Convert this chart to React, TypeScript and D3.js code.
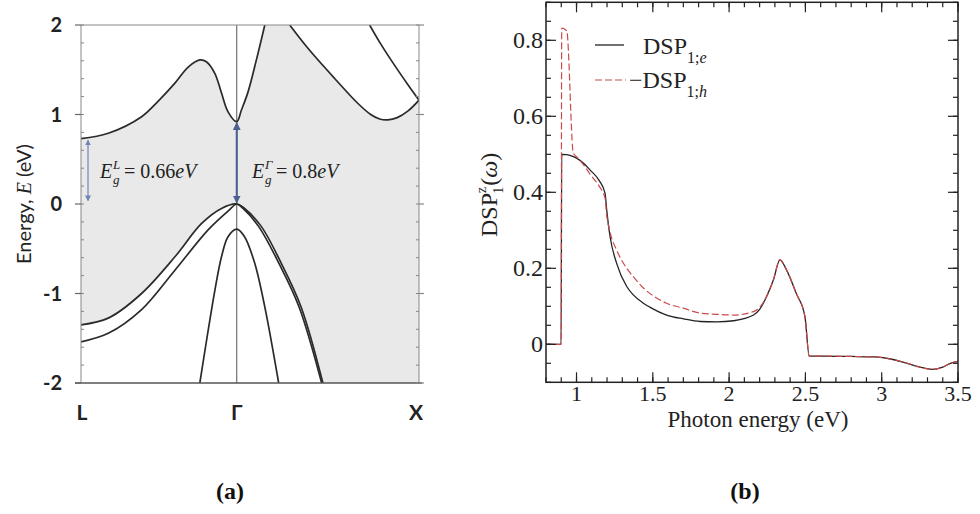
import React from 'react';
import * as d3 from 'd3';

// ---- (a) band structure: k along L -> Gamma -> X, energies in eV ----
const kPoints = [0, 1, 2.17];
const kLabels = ['L', 'Γ', 'X'];
const energyTicks = [-2, -1, 0, 1, 2];

// lowest conduction band, L -> Gamma -> up the steep branch
const cbLow: [number, number][] = [
  [0, 0.73], [0.175, 0.79], [0.389, 0.975], [0.496, 1.15], [0.603, 1.35], [0.688, 1.53],
  [0.763, 1.61], [0.805, 1.59], [0.859, 1.46], [0.902, 1.24], [0.944, 1.03], [1, 0.92],
  [1.03, 1.05], [1.072, 1.25], [1.126, 1.61], [1.18, 2.0]
];
// conduction band dipping towards X
const cbX: [number, number][] = [
  [1.34, 2.0], [1.457, 1.74], [1.63, 1.4], [1.78, 1.12], [1.86, 1.0], [1.917, 0.95],
  [1.97, 0.94], [2.03, 0.965], [2.1, 1.04], [2.17, 1.16]
];
const cbXUpper: [number, number][] = [
  [1.853, 2.0], [1.92, 1.8], [1.99, 1.61], [2.1, 1.33], [2.17, 1.16]
];
// valence bands
const vbHeavy: [number, number][] = [
  [0, -1.35], [0.175, -1.275], [0.389, -1.0], [0.603, -0.59], [0.773, -0.22], [0.902, -0.05], [1, 0],
  [1.05, -0.05], [1.157, -0.25], [1.285, -0.66], [1.413, -1.15], [1.553, -2.0]
];
const vbLight: [number, number][] = [
  [0, -1.54], [0.175, -1.445], [0.389, -1.18], [0.603, -0.74], [0.816, -0.29], [0.944, -0.08], [1, 0],
  [1.04, -0.05], [1.14, -0.25], [1.27, -0.66], [1.4, -1.15], [1.545, -2.0]
];
const vbSplit: [number, number][] = [
  [0.763, -2.0], [0.86, -0.96], [0.902, -0.59], [0.944, -0.365], [1, -0.28],
  [1.05, -0.365], [1.115, -0.66], [1.18, -1.15], [1.269, -2.0]
];
const gapL = 0.66;
const gapGamma = 0.8;

// ---- (b) DSP spectra vs photon energy (eV) ----
const photonEnergy = [0.8, 0.899, 0.903, 0.936, 0.979, 1.0, 1.05, 1.088, 1.15, 1.187, 1.198, 1.22, 1.263, 1.329,
  1.372, 1.438, 1.48, 1.59, 1.7, 1.81, 1.92, 2.03, 2.16, 2.2, 2.245, 2.29, 2.333, 2.376, 2.44, 2.497,
  2.525, 2.6, 2.8, 2.95, 3.05, 3.15, 3.25, 3.33, 3.4, 3.45, 3.5];
const dspElectron = [0, 0, 0.5, 0.499, 0.494, 0.49, 0.475, 0.459, 0.43, 0.397, 0.353, 0.283, 0.213, 0.152,
  0.13, 0.108, 0.098, 0.077, 0.067, 0.06, 0.059, 0.062, 0.077, 0.092, 0.125, 0.169, 0.222, 0.196, 0.134, 0.073,
  -0.031, -0.031, -0.032, -0.033, -0.038, -0.048, -0.06, -0.066, -0.06, -0.05, -0.045];
const dspHole = [0, 0, 0.832, 0.825, 0.503, 0.494, 0.47, 0.448, 0.415, 0.385, 0.34, 0.295, 0.248, 0.2,
  0.178, 0.148, 0.134, 0.108, 0.095, 0.082, 0.079, 0.077, 0.086, 0.097, 0.125, 0.169, 0.222, 0.196, 0.134, 0.073,
  -0.031, -0.031, -0.032, -0.033, -0.038, -0.048, -0.06, -0.066, -0.06, -0.05, -0.045];
const photonTicks = [1, 1.5, 2, 2.5, 3, 3.5];
const dspTicks = [0, 0.2, 0.4, 0.6, 0.8];

const serif = '"Liberation Serif", "Times New Roman", serif';
const sans = 'Lato, "Open Sans", sans-serif';

function GapLabel(props: { x: number; y: number; sup: string; value: string }) {
  const { x, y, sup, value } = props;
  return (
    <g fontFamily={serif} fill="#222">
      <text x={x} y={y} fontSize={20} fontStyle="italic">E</text>
      <text x={x + 13} y={y - 9} fontSize={13} fontStyle="italic">{sup}</text>
      <text x={x + 13} y={y + 6} fontSize={13} fontStyle="italic">g</text>
      <text x={x + 24} y={y} fontSize={20}>
        {' = ' + value}<tspan fontStyle="italic">eV</tspan>
      </text>
    </g>
  );
}

function BandPanel() {
  const x = d3.scaleLinear().domain([0, 2.17]).range([81, 419]);
  const y = d3.scaleLinear().domain([-2, 2]).range([383, 25]);
  const curve = d3.curveCatmullRom.alpha(0.5);
  const line = d3.line<[number, number]>().x(d => x(d[0])).y(d => y(d[1])).curve(curve);
  const above = d3.area<[number, number]>().x(d => x(d[0])).y0(y(2)).y1(d => y(d[1])).curve(curve);
  const below = d3.area<[number, number]>().x(d => x(d[0])).y0(y(-2)).y1(d => y(d[1])).curve(curve);
  const [x0, x1] = x.range();
  const minor = d3.range(-20, 21, 2).map(v => v / 10);

  return (
    <g>
      <defs>
        <clipPath id="bandClip">
          <rect x={x0} y={y(2)} width={x1 - x0} height={y(-2) - y(2)} />
        </clipPath>
        <marker id="arrL" viewBox="0 0 6 6" refX="5" refY="3" markerWidth="5" markerHeight="5" orient="auto-start-reverse">
          <path d="M0,0 L6,3 L0,6 z" fill="#6f86b8" />
        </marker>
        <marker id="arrG" viewBox="0 0 6 6" refX="5" refY="3" markerWidth="4" markerHeight="4" orient="auto-start-reverse">
          <path d="M0,0 L6,3 L0,6 z" fill="#4a5f90" />
        </marker>
      </defs>
      <g clipPath="url(#bandClip)">
        <rect x={x0} y={y(2)} width={x1 - x0} height={y(-2) - y(2)} fill="#e9e9e9" />
        <path d={above(cbLow) || ''} fill="#fff" />
        <path d={above(cbX) || ''} fill="#fff" />
        <path d={below(vbHeavy) || ''} fill="#fff" />
        <line x1={x(1)} x2={x(1)} y1={y(2)} y2={y(-2)} stroke="#555" strokeWidth={1} />
        {[cbLow, cbX, cbXUpper, vbHeavy, vbLight, vbSplit].map((b, i) => (
          <path key={i} d={line(b) || ''} fill="none" stroke="#2a2a2a" strokeWidth={1.7} />
        ))}
      </g>
      {/* frame */}
      <line x1={x0} x2={x1} y1={y(2)} y2={y(2)} stroke="#888" strokeWidth={1} />
      <line x1={x0} x2={x0} y1={y(2)} y2={y(-2)} stroke="#888" strokeWidth={1} />
      <line x1={x1} x2={x1} y1={y(2)} y2={y(-2)} stroke="#888" strokeWidth={1} />
      <line x1={x0 - 6} x2={x1 + 3} y1={y(-2)} y2={y(-2)} stroke="#555" strokeWidth={1.6} />
      {minor.map(v => (
        <g key={v} stroke="#888" strokeWidth={1}>
          <line x1={x0} x2={x0 + 3} y1={y(v)} y2={y(v)} />
          <line x1={x1 - 3} x2={x1} y1={y(v)} y2={y(v)} />
        </g>
      ))}
      {energyTicks.map(v => (
        <g key={v}>
          <line x1={x0 - 6} x2={x0} y1={y(v)} y2={y(v)} stroke="#666" strokeWidth={1.2} />
          <line x1={x1} x2={x1 + 5} y1={y(v)} y2={y(v)} stroke="#888" strokeWidth={1.2} />
          <text x={x0 - 19} y={y(v) + 7} textAnchor="end" fontFamily={sans} fontWeight={700} fontSize={20} fill="#222">{v}</text>
        </g>
      ))}
      {kPoints.map((k, i) => (
        <text key={i} x={x(k) - (i === 2 ? 3 : i === 0 ? -1 : 0)} y={420} textAnchor="middle" fontFamily={sans} fontWeight={700} fontSize={21} fill="#222">{kLabels[i]}</text>
      ))}
      <text transform={`translate(31,${y(0)}) rotate(-90)`} textAnchor="middle" fontFamily={sans} fontSize={20} fill="#222">
        Energy, <tspan fontFamily={serif} fontStyle="italic">E</tspan> (eV)
      </text>
      {/* gap arrows */}
      <line x1={x(0.045)} x2={x(0.045)} y1={y(gapL + 0.05)} y2={y(0.04)} stroke="#6f86b8" strokeWidth={1.2}
        markerStart="url(#arrL)" markerEnd="url(#arrL)" />
      <line x1={x(1)} x2={x(1)} y1={y(0.9)} y2={y(0.02)} stroke="#4a5f90" strokeWidth={2}
        markerStart="url(#arrG)" markerEnd="url(#arrG)" />
      <GapLabel x={100} y={178} sup="L" value={String(gapL)} />
      <GapLabel x={252} y={178} sup="Γ" value={String(gapGamma)} />
      <text x={230} y={499} textAnchor="middle" fontFamily={serif} fontWeight={700} fontSize={24} fill="#111">(a)</text>
    </g>
  );
}

function SpectrumPanel() {
  const x = d3.scaleLinear().domain([0.8, 3.5]).range([546, 958]);
  const y = d3.scaleLinear().domain([-0.1, 0.9]).range([382.3, 2.3]);
  const [x0, x1] = x.range();
  const [yb, yt] = y.range();
  const line = d3.line<number>().x((_, i) => x(photonEnergy[i])).y(d => y(d)).curve(d3.curveMonotoneX);
  const minorX = d3.range(8, 36).map(v => v / 10);
  const minorY = d3.range(-2, 19).map(v => v / 20);

  return (
    <g fontFamily={serif} fill="#222">
      <path d={line(dspElectron) || ''} fill="none" stroke="#222" strokeWidth={1.3} />
      <path d={line(dspHole) || ''} fill="none" stroke="#cc4a4a" strokeWidth={1.2} strokeDasharray="7,3" />
      <rect x={x0} y={yt} width={x1 - x0} height={yb - yt} fill="none" stroke="#222" strokeWidth={1.5} />
      {minorX.map(v => (
        <g key={v} stroke="#222" strokeWidth={1.2}>
          <line x1={x(v)} x2={x(v)} y1={yb} y2={yb - 5} />
          <line x1={x(v)} x2={x(v)} y1={yt} y2={yt + 5} />
        </g>
      ))}
      {photonTicks.map(v => (
        <g key={v}>
          <line x1={x(v)} x2={x(v)} y1={yb} y2={yb - 10} stroke="#222" strokeWidth={1.2} />
          <line x1={x(v)} x2={x(v)} y1={yt} y2={yt + 10} stroke="#222" strokeWidth={1.2} />
          <text x={x(v)} y={401} textAnchor="middle" fontSize={22}>{v}</text>
        </g>
      ))}
      {minorY.map(v => (
        <g key={v} stroke="#222" strokeWidth={1.2}>
          <line x1={x0} x2={x0 + 5} y1={y(v)} y2={y(v)} />
          <line x1={x1} x2={x1 - 5} y1={y(v)} y2={y(v)} />
        </g>
      ))}
      {dspTicks.map(v => (
        <g key={v}>
          <line x1={x0} x2={x0 + 10} y1={y(v)} y2={y(v)} stroke="#222" strokeWidth={1.2} />
          <line x1={x1} x2={x1 - 10} y1={y(v)} y2={y(v)} stroke="#222" strokeWidth={1.2} />
          <text x={x0 - 3} y={y(v) + 8} textAnchor="end" fontSize={24}>{v === 0 ? '0' : v.toFixed(1)}</text>
        </g>
      ))}
      <text x={(x0 + x1) / 2 + 6} y={427} textAnchor="middle" fontSize={23}>Photon energy (eV)</text>
      <text transform={`translate(497,237) rotate(-90)`} fontSize={24}>
        DSP<tspan fontSize={14} dy={-11}>z</tspan><tspan fontSize={14} dx={-7} dy={17}>1</tspan>
        <tspan dy={-6} dx={1}>(</tspan><tspan fontStyle="italic">ω</tspan>)
      </text>
      {/* legend */}
      <line x1={595} x2={624} y1={45} y2={45} stroke="#222" strokeWidth={1.3} />
      <text x={643} y={54} fontSize={24}>
        DSP<tspan fontSize={16} dy={9}>1;<tspan fontStyle="italic">e</tspan></tspan>
      </text>
      <line x1={595} x2={626} y1={80} y2={80} stroke="#cc4a4a" strokeWidth={1.2} strokeDasharray="7,3" />
      <text x={629} y={88} fontSize={24}>
        −DSP<tspan fontSize={16} dy={9}>1;<tspan fontStyle="italic">h</tspan></tspan>
      </text>
      <text x={745} y={499} textAnchor="middle" fontWeight={700} fontSize={24} fill="#111">(b)</text>
    </g>
  );
}

export default function App() {
  return (
    <div style={{ position: 'absolute', left: 0, top: 0 }}>
      <svg width={980} height={514} style={{ display: 'block', background: '#fff' }}>
        <BandPanel />
        <SpectrumPanel />
      </svg>
    </div>
  );
}
